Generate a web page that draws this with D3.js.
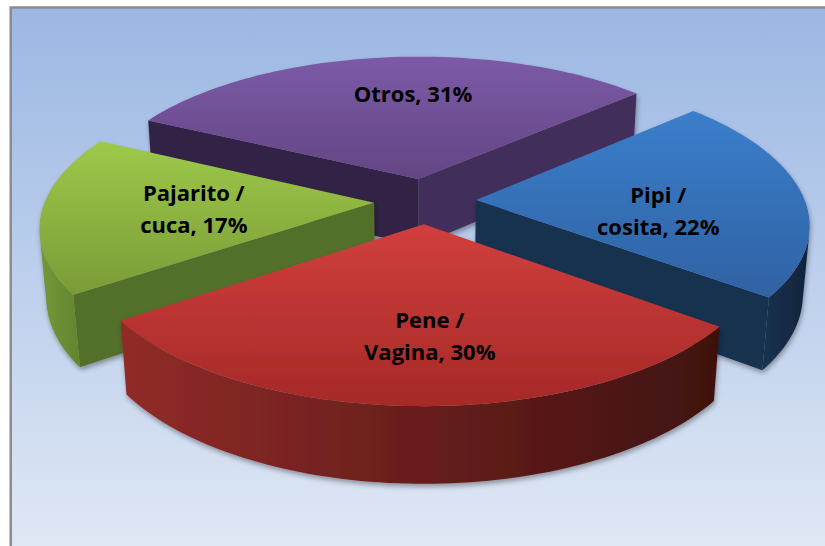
<!DOCTYPE html>
<html>
<head>
<meta charset="utf-8">
<script src="https://cdn.jsdelivr.net/npm/d3@7"></script>
<style>
  html, body { margin: 0; padding: 0; background: #fff; }
  svg { display: block; }
</style>
</head>
<body>
<div id="chart"></div>
<script>
// data
const categories = ["Pipi / cosita", "Pene / Vagina", "Pajarito / cuca", "Otros"];
const values = [22, 30, 17, 31];
const firstSliceAngle = 48;  // degrees, clockwise from 12 o'clock

// styles
const topColors  = [["#3b7ecc", "#2f62a3"], ["#d13f3d", "#a52927"], ["#9ec94a", "#7b9b37"], ["#7c5aa7", "#634584"]];
const sideColors = [["#17324f", "#10243c"], ["#912b28", "#3f1110"], ["#74983a", "#62852d"], ["#3a2950", "#2c1f3d"]];
const startFace  = ["#17324f", "#6a1d1b", "#52702a", "#312244"];
const endFace    = ["#173150", "#6a1d1b", "#52702a", "#432f5a"];
const labelR     = [0.552, 0.656, 0.544, 0.666];
const labelShift = [10.5, -2.6, -0.3, 6.1];

const W = 825, H = 546;
const cx = 425, cy = 201;
const F = 1961, Dist = 5.96;
const tilt = 26.5 * Math.PI / 180;
const sinT = Math.sin(tilt), cosT = Math.cos(tilt);
const depth = 0.235, explode = 0.155;
const cam = [0, Dist * sinT, Dist * cosT];

function project(x, y, z) {
    const d = Dist - z * cosT - y * sinT;
    return [cx + F * x / d, cy + F * (z * sinT - y * cosT) / d];
}
function facing(n, p) {
    return n[0] * (cam[0] - p[0]) + n[1] * (cam[1] - p[1]) + n[2] * (cam[2] - p[2]) > 0;
}

const svg = d3.select("#chart").append("svg")
    .attr("width", W)
    .attr("height", H);
const defs = svg.append("defs");

function gradient(id, c0, c1, horizontal) {
    const g = defs.append("linearGradient").attr("id", id)
        .attr("x1", 0).attr("y1", 0)
        .attr("x2", horizontal ? 1 : 0).attr("y2", horizontal ? 0 : 1);
    g.append("stop").attr("offset", "0%").attr("stop-color", c0);
    g.append("stop").attr("offset", "100%").attr("stop-color", c1);
}
gradient("bg", "#9bb7e3", "#e0e8f5", false);

const shadow = defs.append("filter").attr("id", "shadow")
    .attr("x", "-10%").attr("y", "-10%").attr("width", "120%").attr("height", "130%");
shadow.append("feDropShadow")
    .attr("dx", 1).attr("dy", 3).attr("stdDeviation", 2.5)
    .attr("flood-color", "#000").attr("flood-opacity", 0.35);

svg.append("rect")
    .attr("x", 10.75).attr("y", 7.5)
    .attr("width", W).attr("height", H)
    .attr("fill", "url(#bg)")
    .attr("stroke", "#8c8c8c")
    .attr("stroke-width", 2.5);

const a0 = firstSliceAngle * Math.PI / 180;
const slices = d3.pie().sort(null).startAngle(a0).endAngle(a0 + 2 * Math.PI)(values)
    .map((a, i) => {
        const m = (a.startAngle + a.endAngle) / 2;
        return {...a, i, m, ox: explode * Math.sin(m), oz: -explode * Math.cos(m)};
    });
slices.forEach(s => {
    gradient("top" + s.i, topColors[s.i][0], topColors[s.i][1], false);
    gradient("side" + s.i, sideColors[s.i][0], sideColors[s.i][1], true);
});

const line = d3.line();
const N = 80;

// far slices first
slices.slice().sort((p, q) => p.oz - q.oz).forEach(s => {
    const g = svg.append("g").attr("filter", "url(#shadow)");
    const rimPt = (t, y) => [s.ox + Math.sin(t), y, s.oz - Math.cos(t)];
    const rim = (t, y) => project(...rimPt(t, y));
    const hub = y => project(s.ox, y, s.oz);
    const ts = d3.range(N + 1).map(k => s.startAngle + (s.endAngle - s.startAngle) * k / N);

    // radial faces
    const faces = [
        {t: s.startAngle, n: [-Math.cos(s.startAngle), 0, -Math.sin(s.startAngle)], c: startFace[s.i]},
        {t: s.endAngle, n: [Math.cos(s.endAngle), 0, Math.sin(s.endAngle)], c: endFace[s.i]}
    ];
    faces.forEach(f => {
        if (!facing(f.n, [s.ox, -depth / 2, s.oz])) return;
        g.append("path")
            .attr("d", line([hub(0), rim(f.t, 0), rim(f.t, -depth), hub(-depth)]) + "Z")
            .attr("fill", f.c);
    });

    // curved outer side, visible runs only
    const runs = [];
    let cur = null;
    for (let k = 0; k < N; k++) {
        const tm = (ts[k] + ts[k + 1]) / 2;
        const vis = facing([Math.sin(tm), 0, -Math.cos(tm)], rimPt(tm, -depth / 2));
        if (vis) {
            if (!cur) { cur = [ts[k]]; runs.push(cur); }
            cur.push(ts[k + 1]);
        } else cur = null;
    }
    runs.forEach(r => {
        const pts = r.map(t => rim(t, 0)).concat(r.slice().reverse().map(t => rim(t, -depth)));
        g.append("path")
            .attr("d", line(pts) + "Z")
            .attr("fill", `url(#side${s.i})`);
    });

    // top face
    g.append("path")
        .attr("d", line([hub(0)].concat(ts.map(t => rim(t, 0)))) + "Z")
        .attr("fill", `url(#top${s.i})`);
});

// labels
const lineGap = 32, capH = 15.5;
slices.forEach(s => {
    const parts = categories[s.i].split(" / ");
    const lines = parts.length > 1
        ? [parts[0] + " /", parts[1] + ", " + values[s.i] + "%"]
        : [parts[0] + ", " + values[s.i] + "%"];
    const t = s.m + labelShift[s.i] * Math.PI / 180;
    const r = labelR[s.i];
    const [lx, ly] = project(s.ox + r * Math.sin(t), 0, s.oz - r * Math.cos(t));
    const b0 = ly - (lines.length - 1) * lineGap / 2 + capH / 2;
    const txt = svg.append("text")
        .attr("text-anchor", "middle")
        .attr("font-family", "'Open Sans', sans-serif")
        .attr("font-weight", 700)
        .attr("font-size", 22)
        .attr("fill", "#000");
    lines.forEach((l, k) => {
        txt.append("tspan").attr("x", lx).attr("y", b0 + k * lineGap).text(l);
    });
});
</script>
</body>
</html>
